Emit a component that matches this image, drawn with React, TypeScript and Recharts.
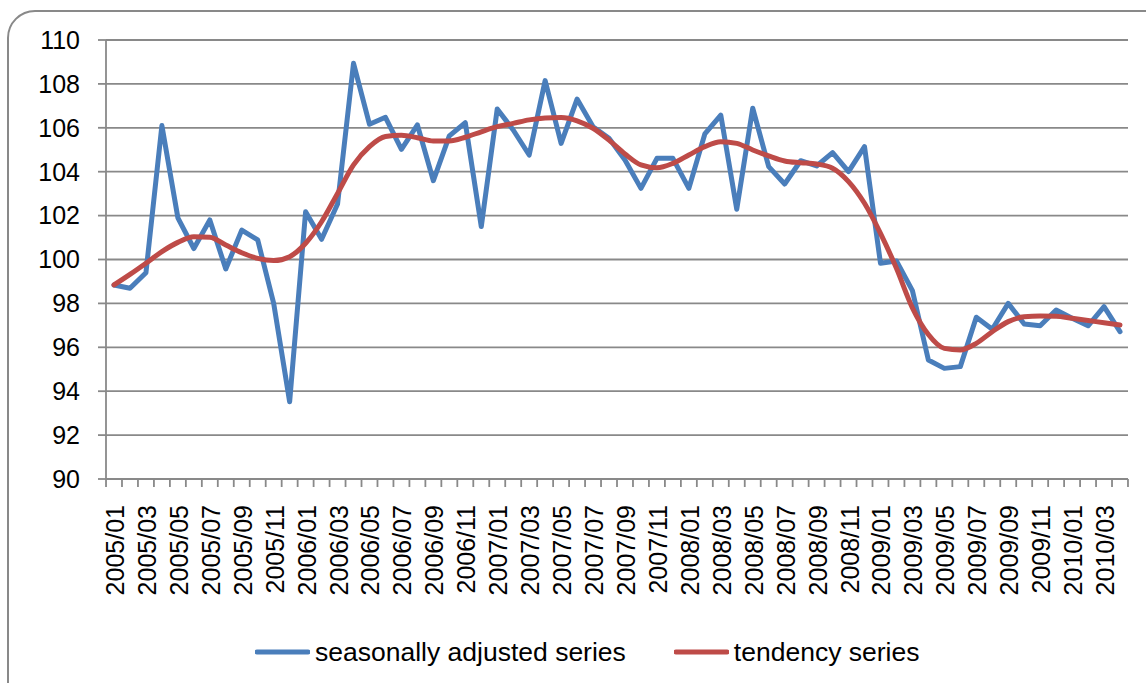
import React from "react";
import { LineChart, Line, XAxis, YAxis, CartesianGrid } from "recharts";

const categories: string[] = [
  "2005/01","2005/02","2005/03","2005/04","2005/05","2005/06","2005/07","2005/08","2005/09","2005/10","2005/11","2005/12",
  "2006/01","2006/02","2006/03","2006/04","2006/05","2006/06","2006/07","2006/08","2006/09","2006/10","2006/11","2006/12",
  "2007/01","2007/02","2007/03","2007/04","2007/05","2007/06","2007/07","2007/08","2007/09","2007/10","2007/11","2007/12",
  "2008/01","2008/02","2008/03","2008/04","2008/05","2008/06","2008/07","2008/08","2008/09","2008/10","2008/11","2008/12",
  "2009/01","2009/02","2009/03","2009/04","2009/05","2009/06","2009/07","2009/08","2009/09","2009/10","2009/11","2009/12",
  "2010/01","2010/02","2010/03","2010/04",
];

const seasonallyAdjusted: number[] = [
  98.84, 98.69, 99.4, 106.1, 101.9, 100.5, 101.8, 99.57, 101.34, 100.89, 98.0, 93.52,
  102.18, 100.92, 102.53, 108.94, 106.16, 106.48, 105.02, 106.13, 103.59, 105.63, 106.23, 101.5,
  106.86, 105.9, 104.76, 108.15, 105.29, 107.31, 106.05, 105.52, 104.53, 103.24, 104.61, 104.61,
  103.24, 105.72, 106.58, 102.29, 106.89, 104.23, 103.44, 104.5, 104.26, 104.87, 104.0, 105.14,
  99.83, 99.93, 98.58, 95.42, 95.04, 95.12, 97.37, 96.82, 98.0, 97.06, 96.98, 97.7,
  97.32, 96.98, 97.85, 96.71,
];

const tendency: number[] = [
  98.84, 99.32, 99.83, 100.36, 100.78, 101.04, 101.01, 100.66, 100.31, 100.05, 99.95, 100.13,
  100.74, 101.72, 103.01, 104.31, 105.14, 105.6, 105.66, 105.55, 105.4, 105.4, 105.57, 105.82,
  106.05, 106.2, 106.36, 106.45, 106.47, 106.32, 105.98, 105.44, 104.81, 104.31, 104.18, 104.38,
  104.76, 105.14, 105.37, 105.29, 104.99, 104.72, 104.49, 104.41, 104.35, 104.16, 103.55, 102.56,
  101.19, 99.6, 97.8, 96.58, 95.95, 95.88, 96.18, 96.71, 97.17, 97.39, 97.43, 97.42,
  97.32, 97.22, 97.12, 97.02,
];

const yTicks: number[] = [90, 92, 94, 96, 98, 100, 102, 104, 106, 108, 110];

const data = categories.map((c, i) => ({
  month: c,
  sa: seasonallyAdjusted[i],
  trend: tendency[i],
}));

const FONT = "'Liberation Sans', Arial, sans-serif";
const GRAY = "#898989";
const BLUE = "#4A7EBB";
const RED = "#BE4B48";
const PLOT_BOTTOM = 479;
const HALF_BAND = 7.98;

const XTick = (props: any) => {
  const { x, payload, index } = props;
  const i = typeof index === "number" ? index : payload?.index ?? 0;
  const last = i === categories.length - 1;
  return (
    <g>
      <line x1={x - HALF_BAND} x2={x - HALF_BAND} y1={PLOT_BOTTOM} y2={PLOT_BOTTOM + 8} stroke={GRAY} strokeWidth={1.8} />
      {last && (
        <line x1={x + HALF_BAND} x2={x + HALF_BAND} y1={PLOT_BOTTOM} y2={PLOT_BOTTOM + 8} stroke={GRAY} strokeWidth={1.8} />
      )}
      {i % 2 === 0 && (
        <text
          x={x}
          y={504}
          transform={`rotate(-90, ${x + 1}, 504)`}
          textAnchor="end"
          dominantBaseline="central"
          fontFamily={FONT}
          fontSize={25}
          fill="#000"
        >
          {payload.value}
        </text>
      )}
    </g>
  );
};

export default function App() {
  return (
    <div
      style={{
        position: "absolute",
        left: 0,
        top: 0,
        width: 1146,
        height: 683,
        overflow: "hidden",
        background: "#fff",
        fontFamily: FONT,
      }}
    >
      <div
        style={{
          position: "absolute",
          left: 7,
          top: 10,
          width: 1170,
          height: 700,
          border: `2px solid ${GRAY}`,
          borderRadius: 28,
          boxSizing: "border-box",
        }}
      />
      <div style={{ position: "absolute", left: 0, top: 0 }}>
        <LineChart width={1146} height={683} data={data} margin={{ top: 40, right: 18, left: 0, bottom: 0 }}>
          <CartesianGrid vertical={false} stroke={GRAY} strokeWidth={1.8} strokeDasharray="" />
          <XAxis
            dataKey="month"
            interval={0}
            height={204}
            padding={{ left: 8, right: 8 }}
            axisLine={{ stroke: GRAY, strokeWidth: 1.8 }}
            tickLine={false}
            tick={<XTick />}
          />
          <YAxis
            domain={[90, 110]}
            ticks={yTicks}
            width={106}
            interval={0}
            tickSize={8}
            tickMargin={18}
            axisLine={{ stroke: GRAY, strokeWidth: 1.8 }}
            tickLine={{ stroke: GRAY, strokeWidth: 1.8 }}
            tick={{ fill: "#000", fontSize: 25, fontFamily: FONT }}
          />
          <Line
            type="linear"
            dataKey="sa"
            stroke={BLUE}
            strokeWidth={5}
            dot={false}
            isAnimationActive={false}
            strokeLinejoin="round"
            strokeLinecap="round"
          />
          <Line
            type="monotone"
            dataKey="trend"
            stroke={RED}
            strokeWidth={5}
            dot={false}
            isAnimationActive={false}
            strokeLinejoin="round"
            strokeLinecap="round"
          />
        </LineChart>
      </div>
      <div
        style={{
          position: "absolute",
          left: 255,
          top: 636,
          height: 32,
          display: "flex",
          alignItems: "center",
          fontSize: 26.5,
          color: "#000",
          whiteSpace: "nowrap",
        }}
      >
        <svg width={55} height={8} style={{ marginRight: 5 }}>
          <line x1={2} x2={53} y1={4} y2={4} stroke={BLUE} strokeWidth={5} strokeLinecap="round" />
        </svg>
        <span>seasonally adjusted series</span>
        <svg width={55} height={8} style={{ marginLeft: 48, marginRight: 5 }}>
          <line x1={2} x2={53} y1={4} y2={4} stroke={RED} strokeWidth={5} strokeLinecap="round" />
        </svg>
        <span>tendency series</span>
      </div>
    </div>
  );
}
